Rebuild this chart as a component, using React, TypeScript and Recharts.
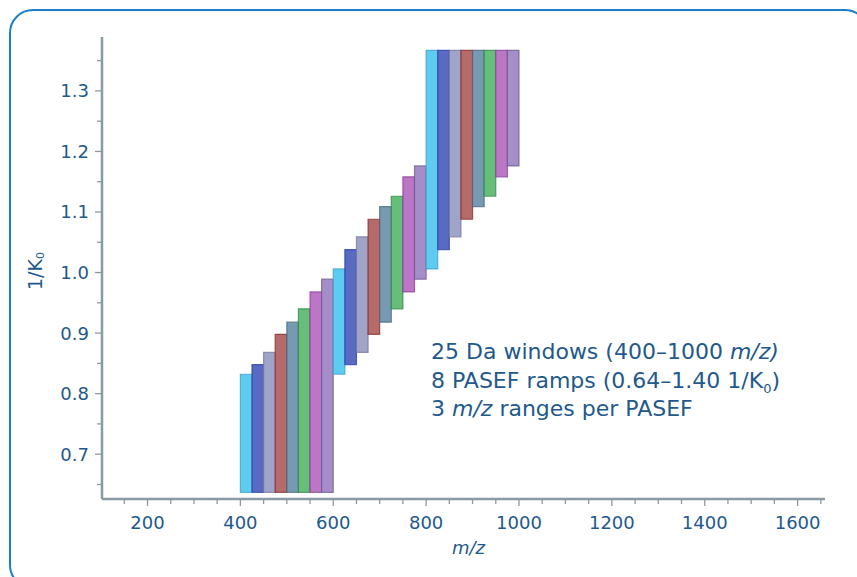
import React from 'react'
import { ComposedChart, XAxis, YAxis, ReferenceArea, Scatter } from 'recharts'

// 24 isolation windows of 25 Da (400–1000 m/z)
const mzStart = [
  400, 425, 450, 475, 500, 525, 550, 575,
  600, 625, 650, 675, 700, 725, 750, 775,
  800, 825, 850, 875, 900, 925, 950, 975,
]
const mzWidth = 25

// ion mobility range of each window (1/K0)
const imLow = [
  0.637, 0.637, 0.637, 0.637, 0.637, 0.637, 0.637, 0.637,
  0.832, 0.848, 0.868, 0.898, 0.918, 0.940, 0.968, 0.989,
  1.006, 1.038, 1.059, 1.088, 1.109, 1.126, 1.158, 1.176,
]
const imHigh = [
  0.832, 0.848, 0.868, 0.898, 0.918, 0.940, 0.968, 0.989,
  1.006, 1.038, 1.059, 1.088, 1.109, 1.126, 1.158, 1.176,
  1.367, 1.367, 1.367, 1.367, 1.367, 1.367, 1.367, 1.367,
]
// PASEF ramp (0..7) each window belongs to
const rampOf = [
  0, 1, 2, 3, 4, 5, 6, 7,
  0, 1, 2, 3, 4, 5, 6, 7,
  0, 1, 2, 3, 4, 5, 6, 7,
]

const rampFill = ['#55c9ef', '#4f62bf', '#9c9fc6', '#b26363', '#7093ad', '#5ebb73', '#b770c3', '#a088c5']
const rampStroke = ['#3e9fc4', '#2a3ca6', '#74779e', '#842a2a', '#46677f', '#2c8a44', '#8a3c98', '#6a5892']

const xTicks = [150, 200, 250, 300, 350, 400, 450, 500, 550, 600, 650, 700, 750, 800, 850, 900, 950, 1000,
  1050, 1100, 1150, 1200, 1250, 1300, 1350, 1400, 1450, 1500, 1550, 1600, 1650]
const yTicks = [0.65, 0.7, 0.75, 0.8, 0.85, 0.9, 0.95, 1.0, 1.05, 1.1, 1.15, 1.2, 1.25, 1.3, 1.35]

const notes = ['25 Da windows (400–1000 ', '8 PASEF ramps (0.64–1.40 1/K', '3 ']

const textColor = '#22598c'
const axisColor = '#8a9aa5'
const font = '"DejaVu Sans", sans-serif'

const windows = mzStart.map((s, i) => ({ mz: s + mzWidth / 2, im: (imLow[i] + imHigh[i]) / 2 }))

function XTick(props: any) {
  const { x, y, payload } = props
  const v = payload.value
  const major = v % 200 === 0
  return (
    <g>
      <line x1={x} y1={y} x2={x} y2={y + (major ? 7 : 5)} stroke={axisColor} strokeWidth={1.3} />
      {major && (
        <text x={x} y={y + 30} textAnchor="middle" fill={textColor} fontSize={18} fontFamily={font}>
          {v}
        </text>
      )}
    </g>
  )
}

function YTick(props: any) {
  const { x, y, payload } = props
  const v = payload.value
  const major = Math.round(v * 100) % 10 === 0
  return (
    <g>
      <line x1={x} y1={y} x2={x - (major ? 7 : 5)} y2={y} stroke={axisColor} strokeWidth={1.3} />
      {major && (
        <text x={x - 13} y={y + 6.5} textAnchor="end" fill={textColor} fontSize={18} fontFamily={font}>
          {v.toFixed(1)}
        </text>
      )}
    </g>
  )
}

export default function App() {
  const line = { height: 28.5, lineHeight: '28.5px' }
  return (
    <div style={{ position: 'absolute', left: 0, top: 0, width: 857, height: 577, overflow: 'hidden', background: '#fff' }}>
      <div style={{
        position: 'absolute', left: 9, top: 9, width: 860, height: 580,
        border: '2px solid #1c7dca', borderRadius: 24, boxSizing: 'border-box',
      }} />
      <ComposedChart width={857} height={577} data={windows}
        margin={{ top: 37, right: 32, bottom: 38, left: 42 }}>
        <XAxis dataKey="mz" type="number" domain={[102, 1659]} ticks={xTicks} interval={0}
          allowDataOverflow height={40} tickSize={0} tickMargin={0} tickLine={false}
          axisLine={{ stroke: axisColor, strokeWidth: 2.5 }} tick={<XTick />}
          label={(p: any) => {
            const vb = p.viewBox
            return (
              <text x={vb.x + vb.width / 2 + 5} y={vb.y + 55} textAnchor="middle" fill={textColor}
                fontSize={18} fontStyle="italic" fontFamily={font}>m/z</text>
            )
          }} />
        <YAxis dataKey="im" type="number" domain={[0.626, 1.389]} ticks={yTicks} interval={0}
          allowDataOverflow width={60} tickSize={0} tickMargin={0} tickLine={false}
          axisLine={{ stroke: axisColor, strokeWidth: 2.5 }} tick={<YTick />}
          label={() => {
            const cx = 35
            const cy = 271
            return (
              <text x={cx} y={cy} transform={`rotate(-90 ${cx} ${cy})`} textAnchor="middle"
                fill={textColor} fontSize={19} fontFamily={font} dominantBaseline="central">
                1/K<tspan fontSize={11} dy={5}>0</tspan>
              </text>
            )
          }} />
        {mzStart.map((s, i) => (
          <ReferenceArea key={s} x1={s} x2={s + mzWidth} y1={imLow[i]} y2={imHigh[i]}
            fill={rampFill[rampOf[i]]} fillOpacity={0.95}
            stroke={rampStroke[rampOf[i]]} strokeOpacity={0.75} strokeWidth={1.2} />
        ))}
        <Scatter dataKey="im" isAnimationActive={false} shape={() => <g />} />
      </ComposedChart>
      <div style={{
        position: 'absolute', left: 431, top: 338, color: textColor, fontFamily: font,
        fontSize: 22, whiteSpace: 'nowrap',
      }}>
        <div style={line}>{notes[0]}<i>m/z)</i></div>
        <div style={line}>{notes[1]}<span style={{ fontSize: 13, position: 'relative', top: 5 }}>0</span>)</div>
        <div style={line}>{notes[2]}<i>m/z</i> ranges per PASEF</div>
      </div>
    </div>
  )
}
